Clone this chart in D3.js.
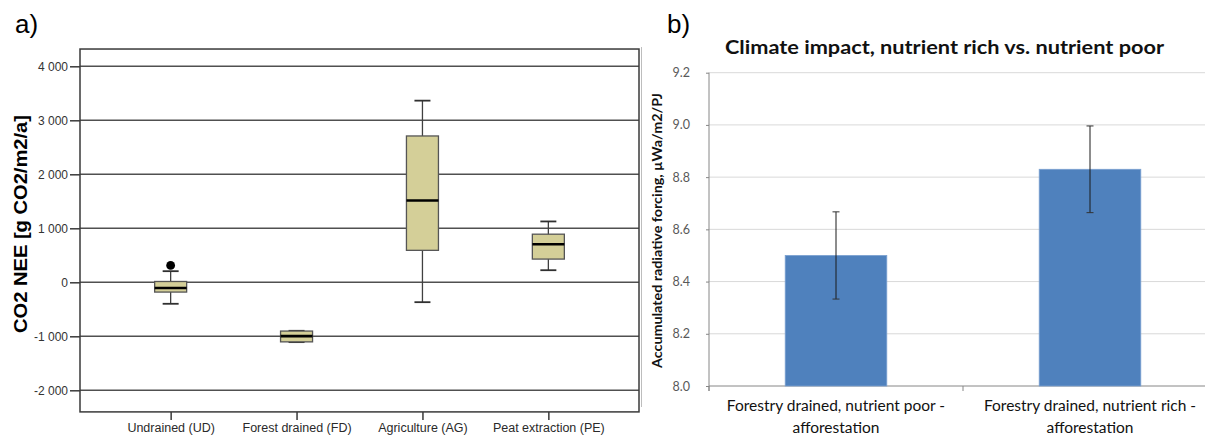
<!DOCTYPE html>
<html>
<head>
<meta charset="utf-8">
<script src="https://cdn.jsdelivr.net/npm/d3@7"></script>
<style>
  body { margin: 0; background: #fff; }
  svg { display: block; }
</style>
</head>
<body>
<svg width="1205" height="438"></svg>
<script>
// ---- panel a) data: box plot of CO2 NEE ----
const boxCats = ["Undrained (UD)", "Forest drained (FD)", "Agriculture (AG)", "Peat extraction (PE)"];
const whiskLow = [-398, -1108, -368, 224];
const q1 = [-181, -1103, 592, 430];
const median = [-106, -997, 1514, 704];
const q3 = [15, -903, 2710, 891];
const whiskHigh = [206, -898, 3364, 1127];
const outliers = [{ cat: "Undrained (UD)", value: 312 }];
const boxTicks = [-2000, -1000, 0, 1000, 2000, 3000, 4000];

// ---- panel b) data: bar chart ----
const barCats = ["poor", "rich"];
const barLabels = [
  ["Forestry drained, nutrient poor -", "afforestation"],
  ["Forestry drained, nutrient rich -", "afforestation"]
];
const barValues = [8.5, 8.83];
const barErrors = [0.167, 0.166];
const barTicks = [8.0, 8.2, 8.4, 8.6, 8.8, 9.0, 9.2];

const svg = d3.select("svg");
const arial = "'Liberation Sans', Arial, sans-serif";
const calibri = "Lato, 'Open Sans', sans-serif";

// ================= panel a =================
const ax = d3.scalePoint().domain(boxCats).range([80, 639]).padding(0.72);
const ay = d3.scaleLinear().domain([-2000, 4000]).range([390.3, 66.3]);
const fmt = d3.formatLocale({ decimal: ".", thousands: " ", grouping: [3], currency: ["", ""], minus: "-" }).format(",");

const ga = svg.append("g");

ga.append("text").attr("x", 15).attr("y", 33)
  .style("font-family", arial).style("font-size", "26px").text("a)");

// gridlines
ga.selectAll("line.grid").data(boxTicks).join("line")
  .attr("class", "grid")
  .attr("x1", 80).attr("x2", 639)
  .attr("y1", d => ay(d)).attr("y2", d => ay(d))
  .attr("stroke", "#505050").attr("stroke-width", 1.5);

// frame
ga.append("rect")
  .attr("x", 80).attr("y", ay(4320))
  .attr("width", 559).attr("height", ay(-2400) - ay(4320))
  .attr("fill", "none").attr("stroke", "#3a3a3a").attr("stroke-width", 1.5);

// y axis
const yAxisA = ga.append("g").attr("transform", "translate(80,0)")
  .call(d3.axisLeft(ay).tickValues(boxTicks).tickFormat(fmt).tickSize(10).tickPadding(2));
yAxisA.select(".domain").remove();
yAxisA.selectAll(".tick line").attr("stroke", "#3a3a3a").attr("stroke-width", 1.5);
yAxisA.selectAll(".tick text").style("font-family", arial).style("font-size", "12px").attr("fill", "#333");

// x axis
const xAxisA = ga.append("g").attr("transform", `translate(0,${ay(-2400)})`)
  .call(d3.axisBottom(ax).tickSize(8).tickPadding(3));
xAxisA.select(".domain").remove();
xAxisA.selectAll(".tick line").attr("stroke", "#3a3a3a").attr("stroke-width", 1.5);
xAxisA.selectAll(".tick text").style("font-family", arial).style("font-size", "12.5px").attr("fill", "#2a2a2a");

ga.append("text")
  .attr("transform", "translate(27,224) rotate(-90)")
  .attr("text-anchor", "middle")
  .attr("textLength", 218).attr("lengthAdjust", "spacingAndGlyphs")
  .style("font-family", arial).style("font-size", "18px").style("font-weight", "bold")
  .text("CO2 NEE [g CO2/m2/a]");

const boxW = 32, capW = 16;
const boxes = ga.selectAll("g.box").data(boxCats).join("g").attr("class", "box")
  .attr("transform", d => `translate(${ax(d)},0)`);

boxes.append("line")
  .attr("y1", (d, i) => ay(whiskLow[i])).attr("y2", (d, i) => ay(whiskHigh[i]))
  .attr("stroke", "#404040").attr("stroke-width", 1.3);
boxes.append("line")
  .attr("x1", -capW / 2).attr("x2", capW / 2)
  .attr("y1", (d, i) => ay(whiskLow[i])).attr("y2", (d, i) => ay(whiskLow[i]))
  .attr("stroke", "#303030").attr("stroke-width", 1.8);
boxes.append("line")
  .attr("x1", -capW / 2).attr("x2", capW / 2)
  .attr("y1", (d, i) => ay(whiskHigh[i])).attr("y2", (d, i) => ay(whiskHigh[i]))
  .attr("stroke", "#303030").attr("stroke-width", 1.8);
boxes.append("rect")
  .attr("x", -boxW / 2).attr("width", boxW)
  .attr("y", (d, i) => ay(q3[i])).attr("height", (d, i) => ay(q1[i]) - ay(q3[i]))
  .attr("fill", "#d4cf98").attr("stroke", "#555").attr("stroke-width", 1.3);
boxes.append("line")
  .attr("x1", -boxW / 2).attr("x2", boxW / 2)
  .attr("y1", (d, i) => ay(median[i])).attr("y2", (d, i) => ay(median[i]))
  .attr("stroke", "#000").attr("stroke-width", 2.6);

ga.selectAll("circle.out").data(outliers).join("circle")
  .attr("class", "out")
  .attr("cx", d => ax(d.cat)).attr("cy", d => ay(d.value)).attr("r", 4.4)
  .attr("fill", "#000");

// ================= panel b =================
const bx = d3.scaleBand().domain(barCats).range([709, 1217]).paddingInner(0.6).paddingOuter(0.3);
const by = d3.scaleLinear().domain([8.0, 9.2]).range([386, 72.7]);
const gb = svg.append("g");

gb.append("text").attr("x", 667).attr("y", 33)
  .style("font-family", arial).style("font-size", "26px").text("b)");

gb.append("line").attr("x1", 641.5).attr("x2", 641.5).attr("y1", 47).attr("y2", 407)
  .attr("stroke", "#bdbdbd").attr("stroke-width", 1);

gb.append("text").attr("x", 944.5).attr("y", 54)
  .attr("text-anchor", "middle")
  .attr("textLength", 439).attr("lengthAdjust", "spacingAndGlyphs")
  .style("font-family", calibri).style("font-size", "19px").style("font-weight", "bold")
  .attr("fill", "#111")
  .text("Climate impact, nutrient rich vs. nutrient poor");

// gridlines
gb.selectAll("line.grid").data(barTicks.slice(1)).join("line")
  .attr("class", "grid")
  .attr("x1", 709).attr("x2", 1205)
  .attr("y1", d => by(d)).attr("y2", d => by(d))
  .attr("stroke", "#d9d9d9").attr("stroke-width", 1);

const yAxisB = gb.append("g").attr("transform", "translate(709,0)")
  .call(d3.axisLeft(by).tickValues(barTicks).tickFormat(d3.format(".1f")).tickSize(3).tickPadding(16));
yAxisB.select(".domain").remove();
yAxisB.selectAll(".tick line").attr("stroke", "#868686");
yAxisB.selectAll(".tick text").style("font-family", calibri).style("font-size", "12.5px").attr("fill", "#595959");

gb.append("line").attr("x1", 709).attr("x2", 709).attr("y1", by(9.2)).attr("y2", by(8.0) + 5)
  .attr("stroke", "#868686");
gb.append("line").attr("x1", 709).attr("x2", 1205).attr("y1", by(8.0)).attr("y2", by(8.0))
  .attr("stroke", "#868686");
// category boundary ticks
gb.selectAll("line.ctick").data(barCats).join("line")
  .attr("class", "ctick")
  .attr("x1", d => bx(d) - bx.step() * 0.3).attr("x2", d => bx(d) - bx.step() * 0.3)
  .attr("y1", by(8.0)).attr("y2", by(8.0) + 5)
  .attr("stroke", "#868686");

gb.append("text")
  .attr("transform", "translate(662,230.5) rotate(-90)")
  .attr("text-anchor", "middle")
  .attr("textLength", 275).attr("lengthAdjust", "spacingAndGlyphs")
  .style("font-family", calibri).style("font-size", "13px").style("font-weight", "bold")
  .attr("fill", "#111")
  .text("Accumulated radiative forcing, \u00b5Wa/m2/PJ");

gb.selectAll("rect.bar").data(barValues).join("rect")
  .attr("class", "bar")
  .attr("x", (d, i) => bx(barCats[i])).attr("width", bx.bandwidth())
  .attr("y", d => by(d)).attr("height", d => by(8.0) - by(d))
  .attr("fill", "#4f81bd").attr("stroke", "#7aa0d0").attr("stroke-width", 0.8);

const errs = gb.selectAll("g.err").data(barValues).join("g").attr("class", "err")
  .attr("transform", (d, i) => `translate(${bx(barCats[i]) + bx.bandwidth() / 2},0)`);
errs.append("line")
  .attr("y1", (d, i) => by(d - barErrors[i])).attr("y2", (d, i) => by(d + barErrors[i]))
  .attr("stroke", "#1a1a1a").attr("stroke-width", 1);
errs.append("line").attr("x1", -3.5).attr("x2", 3.5)
  .attr("y1", (d, i) => by(d - barErrors[i])).attr("y2", (d, i) => by(d - barErrors[i]))
  .attr("stroke", "#333").attr("stroke-width", 1);
errs.append("line").attr("x1", -3.5).attr("x2", 3.5)
  .attr("y1", (d, i) => by(d + barErrors[i])).attr("y2", (d, i) => by(d + barErrors[i]))
  .attr("stroke", "#333").attr("stroke-width", 1);

const catText = gb.selectAll("text.cat").data(barCats).join("text")
  .attr("class", "cat")
  .attr("text-anchor", "middle")
  .style("font-family", calibri).style("font-size", "15.5px")
  .attr("fill", "#111");
catText.selectAll("tspan").data((d, i) => barLabels[i].map(t => ({ t, c: d }))).join("tspan")
  .attr("x", d => bx(d.c) + bx.bandwidth() / 2)
  .attr("y", (d, j) => 411 + j * 22)
  .text(d => d.t);
</script>
</body>
</html>
